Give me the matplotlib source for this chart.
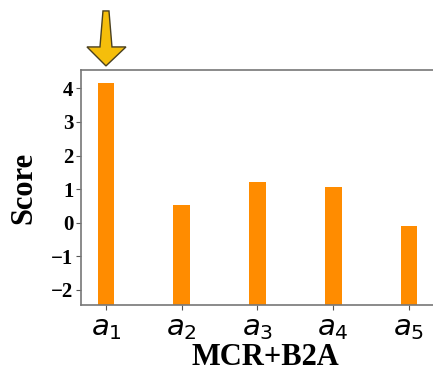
import matplotlib
matplotlib.use('Agg')
import matplotlib.pyplot as plt
from matplotlib.patches import Polygon

# values
labels = ['$a_1$', '$a_2$', '$a_3$', '$a_4$', '$a_5$']
scores = [4.15, 0.54, 1.22, 1.07, -0.1]
yticks = [-2, -1, 0, 1, 2, 3, 4]
best = 0  # index of the alternative marked by the arrow

ymin, ymax = -2.45, 4.55

fig = plt.figure(figsize=(4.33, 3.72), dpi=100)
# the reference is cropped on the right, so the axes run past the figure edge
ax = fig.add_axes([0.187, 0.180, 0.852, 0.632])

x = list(range(len(labels)))
# bars start from the bottom of the axis, not from zero
heights = [s - ymin for s in scores]
ax.bar(x, heights, bottom=ymin, width=0.22, color='#FF8C00')

ax.set_xlim(-0.33, 4.54)
ax.set_ylim(ymin, ymax)
ax.set_xticks(x)
ax.set_xticklabels(labels, fontsize=21)
ax.set_yticks(yticks)
ax.set_yticklabels([str(t).replace('-', '\u2212') for t in yticks],
                   family='Liberation Serif', fontweight='bold', fontsize=15)
ax.tick_params(axis='y', pad=2, length=3.5, color='#555555')
ax.tick_params(axis='x', pad=3, length=3.5, color='#555555')

for s in ax.spines.values():
    s.set_color('#777777')
    s.set_linewidth(1.2)
ax.spines['right'].set_visible(False)

ax.set_ylabel('Score', family='Liberation Serif', fontweight='bold', fontsize=22, labelpad=9)
ax.set_xlabel('MCR+B2A', family='Liberation Serif', fontweight='bold', fontsize=22, labelpad=1)

# tapered yellow arrow above the best bar, shape in pixels relative to its centre
cx, top = ax.transData.transform((best, ymax))
shape = [(0, 4), (-19, 23), (-6, 23), (-3, 59), (3, 59), (6, 23), (20, 23)]
verts = [(cx + dx, top + dy) for dx, dy in shape]
verts = fig.transFigure.inverted().transform(verts)
fig.patches.append(Polygon(verts, closed=True, transform=fig.transFigure,
                           fc='#F5BE0B', ec='#4A4020', lw=1.0))

fig.savefig('out.png', dpi=100)
